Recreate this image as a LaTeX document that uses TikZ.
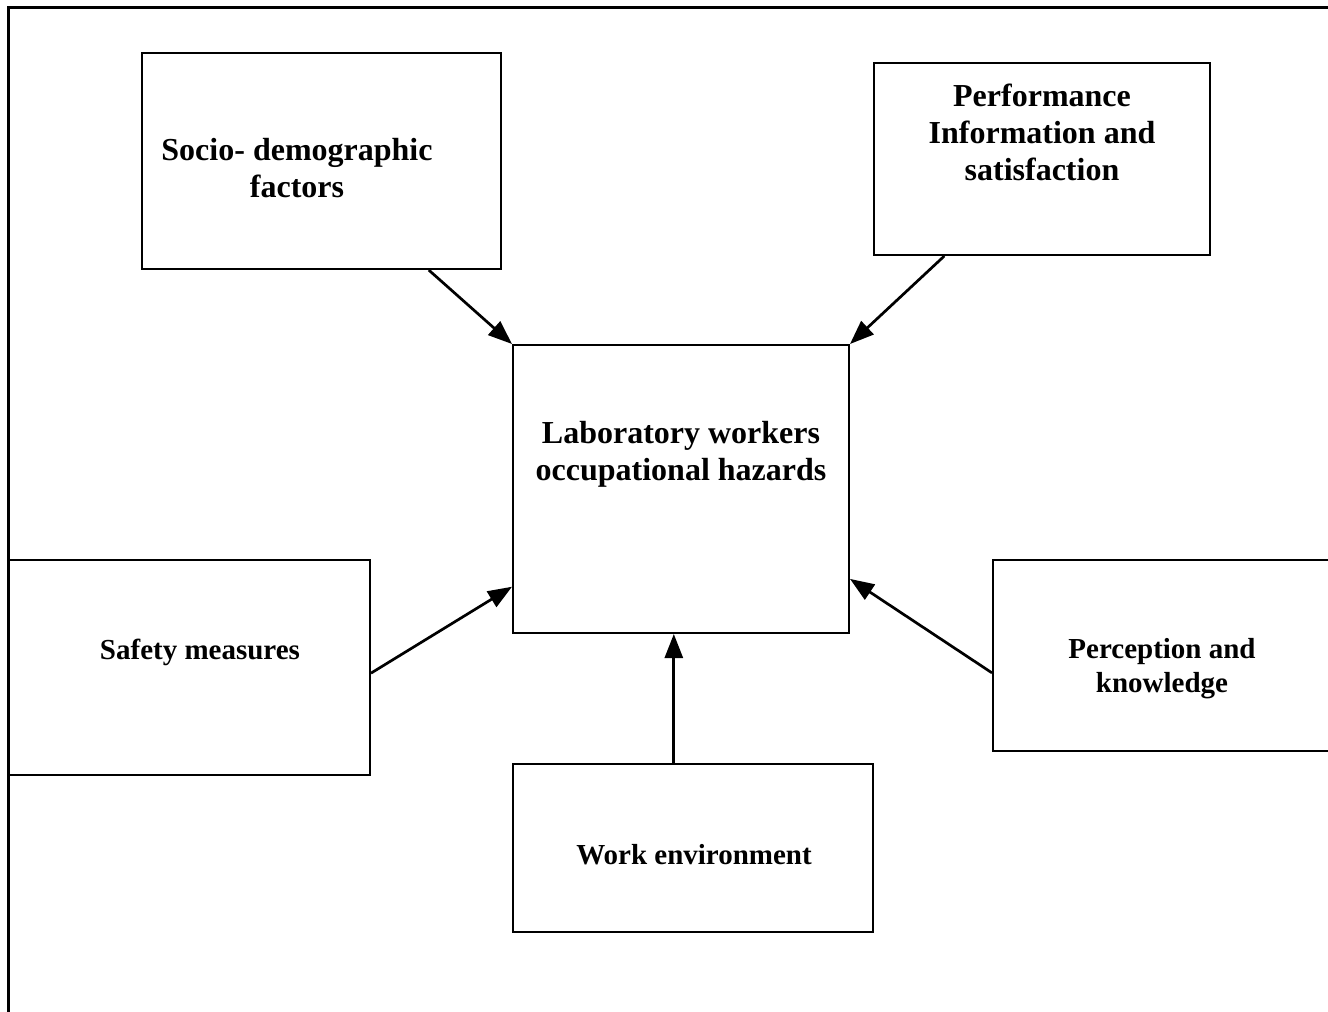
\documentclass[tikz,border=0pt]{standalone}
\usepackage{fontspec}
\setmainfont{Liberation Serif}
\usetikzlibrary{calc,arrows.meta}
\tikzset{
  boxnode/.style={draw=black, line width=2pt, rectangle, inner sep=0pt},
  bigtxt/.style={font=\fontsize{32}{37}\selectfont\bfseries, align=center, inner sep=0pt},
  smalltxt/.style={font=\fontsize{29}{34}\selectfont\bfseries, align=center, inner sep=0pt},
  conn/.style={line width=2.7pt, -{Triangle[length=24pt,width=18pt]}},
}
\begin{document}
\begin{tikzpicture}[x=1pt,y=-1pt]
\useasboundingbox (0,0) rectangle (1328,1012);
% outer frame (only left and top edges inside the page)
\draw[line width=3pt] (8,1020) -- (8,7) -- (1340,7);
% boxes
\node[boxnode, minimum width=359pt, minimum height=216pt] (socio) at (321.5,161) {};
\node[boxnode, minimum width=336pt, minimum height=192pt] (perf) at (1042,159) {};
\node[boxnode, minimum width=336pt, minimum height=288pt] (center) at (681,489) {};
\node[boxnode, minimum width=361pt, minimum height=215pt] (safety) at (189.5,667.5) {};
\node[boxnode, minimum width=338pt, minimum height=191pt] (percep) at (1162,655.5) {};
\node[boxnode, minimum width=360pt, minimum height=168pt] (work) at (693,848) {};
% texts
\node[bigtxt] (tsocio) at (297,168) {Socio- demographic\\factors};
\node[bigtxt] (tperf) at (1042,132) {Performance\\Information and\\satisfaction};
\node[bigtxt] (tcenter) at (681,454.5) {Laboratory workers\\occupational hazards};
\node[smalltxt] (tsafety) at (200,652) {Safety measures};
\node[smalltxt] (tpercep) at (1162,669) {Perception and\\knowledge};
\node[smalltxt] (twork) at (694,855) {Work environment};
% connectors
\coordinate (s1) at ($(socio.south west)!0.797!(socio.south east)$);
\draw[conn] (s1) -- (center.north west);
\coordinate (p1) at ($(perf.south west)!0.211!(perf.south east)$);
\draw[conn] (p1) -- (center.north east);
\coordinate (sa1) at ($(safety.north east)!0.526!(safety.south east)$);
\coordinate (sa2) at ($(center.north west)!0.837!(center.south west)$);
\draw[conn] (sa1) -- (sa2);
\coordinate (w1) at ($(work.north west)!0.447!(work.north east)$);
\draw[conn] (w1) -- (w1 |- center.south);
\coordinate (pe1) at ($(percep.north west)!0.59!(percep.south west)$);
\coordinate (pe2) at ($(center.north east)!0.81!(center.south east)$);
\draw[conn] (pe1) -- (pe2);
\end{tikzpicture}
\end{document}
